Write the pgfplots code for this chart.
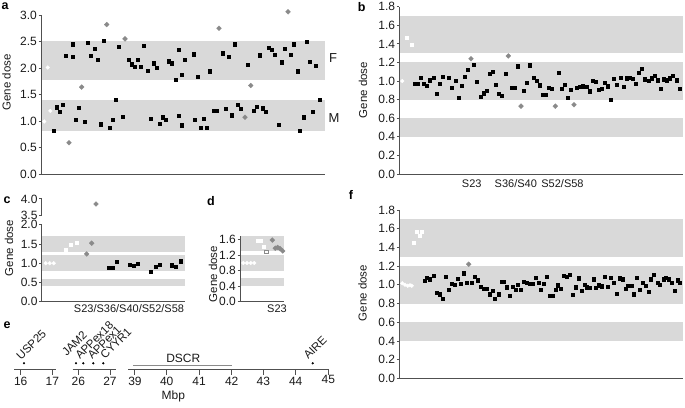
\documentclass[border=0pt]{standalone}
\usepackage{fontspec}
\setmainfont{Liberation Sans}
\usepackage{pgfplots}
\pgfplotsset{compat=1.18}
\definecolor{band}{HTML}{D9D9D9}
\definecolor{axg}{HTML}{505050}
\definecolor{dia}{HTML}{8A8A8A}
\definecolor{txt}{HTML}{1A1A1A}
\newcommand{\fs}{\fontsize{11}{13}\selectfont}
\newcommand{\ft}{\fontsize{12}{14}\selectfont}
\newcommand{\fg}{\fontsize{11.5}{13}\selectfont}
\pgfplotsset{
  panel/.style={scale only axis, anchor=south west, clip=false, axis on top,
    axis lines=left, axis line style={-, axg, line width=0.8pt},
    xtick=\empty, tick align=outside, major tick length=2.5pt,
    tick style={axg, line width=0.8pt},
    yticklabel style={font=\ft, text=txt, inner xsep=1.5pt}},
  blk/.style={only marks, mark=square*, color=black, mark size=1.6pt},
  gry/.style={only marks, mark=square*, color=dia, mark size=1.7pt, mark options={rotate=45}},
  wdia/.style={only marks, mark=square*, color=white, mark size=1.3pt, mark options={rotate=45}},
  wsq/.style={only marks, mark=square*, color=white, mark size=1.5pt},
}
\begin{document}
\begin{tikzpicture}
\useasboundingbox (0,0) rectangle (685pt,407pt);

% ---------------- panel a ----------------
\begin{axis}[panel, at={(41pt,233pt)}, width=284pt, height=159pt,
  xmin=41, xmax=325, ymin=0, ymax=3,
  ytick={0,0.5,1,1.5,2,2.5,3}, yticklabels={0.0,0.5,1.0,1.5,2.0,2.5,3.0}]
\fill[band] (axis cs:41,1.78) rectangle (axis cs:325,2.5);
\fill[band] (axis cs:41,0.82) rectangle (axis cs:325,1.40);
\addplot[blk] coordinates {
(66,2.23)(72.3,2.45)(73,2.22)(87.7,2.48)(90.7,2.23)(94.3,2.36)(97.3,2.16)(103.7,2.51)(118.7,2.40)(128.7,2.15)(131.7,2.07)(134.7,2.02)(137.7,2.15)(141,2.03)(144,2.42)(147.3,1.95)(153.7,2.09)(156.7,2.01)(168.7,2.13)(172,2.09)(175.3,1.78)(178.7,2.34)(181.7,1.87)(185,2.15)(194,2.26)(197.7,1.84)(210,1.94)(222.3,2.28)(228.3,2.21)(235,2.45)(247.3,2.06)(260,2.24)(269,2.38)(272,2.35)(275,2.25)(281.7,2.11)(285,2.37)(291,2.25)(294,2.45)(297.3,1.94)(306.7,2.49)(310,2.12)(316,2.05)
(53.3,0.81)(56.7,1.26)(60,1.17)(63,1.31)(75.3,1.03)(78.7,1.25)(84.7,0.98)(100.3,0.94)(109.7,0.88)(113,1.03)(116,1.40)(122.7,1.08)(150.7,1.05)(159.7,0.95)(162.7,1.07)(166,1.02)(178.7,1.10)(181.7,0.92)(194.3,1.03)(200.3,0.87)(203.7,1.04)(206.7,0.87)(213.3,1.19)(216.7,1.19)(225.7,1.23)(231.7,1.11)(237.7,1.30)(240.7,1.23)(253.7,1.19)(256.7,1.27)(263,1.24)(266,1.18)(278.3,0.93)(300,0.82)(303.3,1.07)(312.7,1.17)(319.3,1.40)};
\addplot[gry] coordinates {(69,0.59)(81.7,1.64)(106.7,2.82)(125,2.55)(219,2.75)(245,1.07)(250.7,1.67)(288,3.06)};
\addplot[wdia] coordinates {(47.7,2.01)(44.3,0.99)(50.3,1.19)};
\end{axis}

% ---------------- panel b ----------------
\begin{axis}[panel, at={(399.3pt,233pt)}, width=283.7pt, height=167.3pt,
  xmin=399.3, xmax=683, ymin=0, ymax=1.8,
  ytick={0,0.2,0.4,0.6,0.8,1,1.2,1.4,1.6,1.8}, yticklabels={0.0,0.2,0.4,0.6,0.8,1.0,1.2,1.4,1.6,1.8}]
\fill[band] (axis cs:399.3,1.3) rectangle (axis cs:683,1.7);
\fill[band] (axis cs:399.3,0.8) rectangle (axis cs:683,1.2);
\fill[band] (axis cs:399.3,0.4) rectangle (axis cs:683,0.6);
\addplot[blk] coordinates {
(414.7,0.975)(417.7,0.975)(421,1.035)(424,0.975)(427,0.946)(430,1.01)(433.3,1.04)(436.3,0.86)(439.7,0.97)(442.7,1.05)(449,1.035)(452,0.93)(455.3,1.00)(458.3,0.82)(461.7,0.946)(464.7,1.043)(468,1.125)(474,1.18)(477,0.99)(480.3,0.83)(483.3,0.87)(486.7,0.90)(489.7,1.08)(492.7,1.10)(496,0.96)(499,0.86)(502,0.84)(505.3,1.08)(511.3,0.93)(514.7,0.93)(517.7,1.16)(523.7,0.90)(527,0.98)(530,1.17)(533.3,1.04)(536.3,1.00)(539.7,0.955)(542.7,0.855)(545.7,0.855)(549,0.93)(552,0.92)(558.3,1.09)(561.3,0.92)(564.7,0.965)(567.7,0.82)(570.7,0.91)(577,0.93)(580,0.935)(583,0.945)(586.3,0.935)(589.3,0.89)(592.3,1.005)(595.3,0.995)(598.7,0.91)(601.7,0.92)(604.7,0.985)(608,0.945)(611,0.80)(614,1.025)(617,0.965)(620.3,1.04)(623.3,0.94)(626.7,1.03)(629.7,1.04)(632.7,1.025)(635.7,0.97)(639,1.09)(642,1.13)(645,1.02)(648.3,1.00)(651.3,1.03)(654.3,1.06)(657.7,1.01)(660.7,0.92)(663.7,1.02)(667,1.01)(670,1.03)(673,1.06)(676.3,1.01)(679.3,0.915)};
\addplot[gry] coordinates {(471,1.24)(508.3,1.27)(521,0.73)(555.3,0.73)(574,0.745)};
\addplot[wdia] coordinates {(402.3,1.00)};
\addplot[wsq] coordinates {(406.7,1.47)(411.3,1.39)};
\end{axis}

% ---------------- panel f ----------------
\begin{axis}[panel, at={(399.3pt,28.7pt)}, width=283.7pt, height=168.3pt,
  xmin=399.3, xmax=683, ymin=0, ymax=1.8,
  ytick={0,0.2,0.4,0.6,0.8,1,1.2,1.4,1.6,1.8}, yticklabels={0.0,0.2,0.4,0.6,0.8,1.0,1.2,1.4,1.6,1.8}]
\fill[band] (axis cs:399.3,1.3) rectangle (axis cs:683,1.7);
\fill[band] (axis cs:399.3,0.8) rectangle (axis cs:683,1.2);
\fill[band] (axis cs:399.3,0.4) rectangle (axis cs:683,0.6);
\addplot[blk] coordinates {
(424.3,1.048)(427,1.08)(430,1.06)(433.3,1.10)(436.3,0.915)(439.3,0.90)(442.3,0.85)(445.7,1.085)(448.7,0.945)(452,1.01)(455,1.0)(457.7,1.066)(460.7,1.01)(463.3,1.125)(466.7,1.02)(472,1.02)(474.7,1.085)(478,1.05)(480.7,0.98)(483.3,0.96)(486.7,0.96)(489.3,0.90)(492.7,0.935)(494.3,0.85)(498.3,0.90)(501.3,1.03)(504,1.03)(506.7,0.975)(510,0.88)(512.7,0.98)(515.3,0.95)(518,1.0)(520.7,0.95)(523.3,1.03)(526.7,1.02)(530,1.01)(532.7,1.01)(535.3,1.08)(538.3,1.02)(541,0.945)(544,1.01)(547,1.085)(549.3,0.88)(552.7,0.88)(555.3,0.945)(558,0.995)(561,0.96)(564,1.10)(566.7,1.085)(570,1.11)(572.7,0.895)(575.3,0.975)(578.7,1.07)(581.3,0.935)(584.3,1.0)(587,0.975)(590,0.97)(593.3,1.06)(596,0.97)(598.7,0.995)(602,0.985)(604.7,1.085)(607.7,0.98)(610.7,1.075)(613.3,1.02)(616.3,0.905)(619.3,1.07)(622.7,1.06)(625.3,0.955)(628,0.99)(631.3,0.99)(634,0.90)(637,1.08)(640,0.95)(642.7,1.02)(645.3,0.99)(648.7,0.925)(651,1.06)(654,1.11)(657.3,1.02)(660,1.0)(663.3,1.06)(666,1.08)(669,1.06)(671.7,1.02)(674.7,0.935)(677.3,1.05)(680,1.02)};
\addplot[gry] coordinates {(468.7,1.22)};
\addplot[wdia] coordinates {(402.3,1.016)(405,1.0)(407.7,0.99)(410,0.995)(411.7,0.99)};
\addplot[wsq] coordinates {(413.7,1.45)(416.3,1.57)(419.3,1.52)(422,1.57)};
\end{axis}

% ---------------- panel c (broken axis: 3.5 drawn at 2.25, 4.0 at 2.67) ----------------
\begin{axis}[panel, at={(41.7pt,105.3pt)}, width=143.3pt, height=102.8pt,
  xmin=41.7, xmax=185, ymin=0, ymax=2.67, y axis line style={draw=none},
  ytick={0,0.5,1,1.5,2,2.25,2.67}, yticklabels={0.0,0.5,1.0,1.5,2.0,3.5,4.0}]
\fill[band] (axis cs:41.7,1.3) rectangle (axis cs:185,1.7);
\fill[band] (axis cs:41.7,0.8) rectangle (axis cs:185,1.2);
\fill[band] (axis cs:41.7,0.4) rectangle (axis cs:185,0.6);
\draw[axg, line width=0.8pt] (axis cs:41.7,0) -- (axis cs:41.7,2.0);
\draw[axg, line width=0.8pt] (axis cs:41.7,2.25) -- (axis cs:41.7,2.67);
\addplot[blk] coordinates {(108.3,0.875)(112.7,0.89)(116.7,1.03)(130,0.97)(134,0.94)(138,0.99)(151,0.78)(155.3,0.9)(159.3,0.97)(171.7,0.95)(176,0.91)(180.3,1.05)};
\addplot[gry] coordinates {(86.7,1.24)(91.7,1.52)(96,2.536)};
\addplot[wdia] coordinates {(45.7,1.0)(49.7,1.0)(53.7,1.0)};
\addplot[wsq] coordinates {(65.3,1.35)(70.7,1.49)(76.3,1.53)};
\end{axis}

% ---------------- panel d ----------------
\begin{axis}[panel, at={(240pt,105.3pt)}, width=44pt, height=65.9pt,
  xmin=240, xmax=284, ymin=0, ymax=1.7,
  ytick={0,0.4,0.8,1.2,1.6}, yticklabels={0.0,0.4,0.8,1.2,1.6}]
\fill[band] (axis cs:240,1.3) rectangle (axis cs:284,1.7);
\fill[band] (axis cs:240,0.8) rectangle (axis cs:284,1.2);
\fill[band] (axis cs:240,0.4) rectangle (axis cs:284,0.6);
\addplot[wdia] coordinates {(243.3,1.0)(247,1.0)(250.7,1.0)(254.3,1.0)};
\addplot[wsq] coordinates {(257.7,1.57)(261,1.58)(264,1.42)};
\addplot[only marks, mark=square*, mark size=1.8pt, mark options={draw=dia, fill=white, line width=0.6pt}] coordinates {(266.3,1.29)};
\addplot[gry] coordinates {(272.3,1.59)(275.3,1.38)(277.7,1.40)(280,1.37)(282.7,1.31)};
\end{axis}

% ---------------- overlay: texts and panel e (pixel coordinates, y up) ----------------
\begin{axis}[scale only axis, anchor=south west, at={(0pt,0pt)}, width=685pt, height=407pt,
  xmin=0, xmax=685, ymin=0, ymax=407, hide axis, clip=false]
% panel letters
\node[font=\fontsize{12.5}{14}\selectfont\bfseries] at (axis cs:5,400.5) {a};
\node[font=\fontsize{12.5}{14}\selectfont\bfseries] at (axis cs:361.7,399.7) {b};
\node[font=\fontsize{12.5}{14}\selectfont\bfseries] at (axis cs:7,206.7) {c};
\node[font=\fontsize{12.5}{14}\selectfont\bfseries] at (axis cs:211,206) {d};
\node[font=\fontsize{12.5}{14}\selectfont\bfseries] at (axis cs:7,81.5) {e};
\node[font=\fontsize{12.5}{14}\selectfont\bfseries] at (axis cs:351,212) {f};
% y labels
\node[font=\fg, text=txt, rotate=90] at (axis cs:6.5,324.5) {Gene dose};
\node[font=\fg, text=txt, rotate=90] at (axis cs:363,317) {Gene dose};
\node[font=\fg, text=txt, rotate=90] at (axis cs:9,159) {Gene dose};
\node[font=\fg, text=txt, rotate=90] at (axis cs:213,133) {Gene dose};
\node[font=\fg, text=txt, rotate=90] at (axis cs:362.5,114) {Gene dose};
% F / M
\node[font=\fontsize{13}{15}\selectfont, text=txt] at (axis cs:333,349) {F};
\node[font=\fontsize{13}{15}\selectfont, text=txt] at (axis cs:334,289) {M};
% category labels
\node[font=\fs, text=txt] at (axis cs:471.7,223.7) {S23};
\node[font=\fs, text=txt] at (axis cs:515.8,223.7) {S36/S40};
\node[font=\fs, text=txt] at (axis cs:562.5,223.7) {S52/S58};
\node[font=\fs, text=txt] at (axis cs:129,98.3) {S23/S36/S40/S52/S58};
\node[font=\fs, text=txt] at (axis cs:277,98.3) {S23};
% panel e: chromosome scale
\draw[axg, line width=0.8pt] (axis cs:14,37.7) -- (axis cs:56,37.7);
\draw[axg, line width=0.8pt] (axis cs:72.7,37.7) -- (axis cs:115.7,37.7);
\draw[axg, line width=0.8pt] (axis cs:128.3,37.7) -- (axis cs:328.3,37.7);
\draw[axg, line width=0.8pt] (axis cs:20.7,37.7) -- (axis cs:20.7,32);
\draw[axg, line width=0.8pt] (axis cs:52.3,37.7) -- (axis cs:52.3,32);
\draw[axg, line width=0.8pt] (axis cs:78.3,37.7) -- (axis cs:78.3,32);
\draw[axg, line width=0.8pt] (axis cs:110,37.7) -- (axis cs:110,32);
\draw[axg, line width=0.8pt] (axis cs:134.3,37.7) -- (axis cs:134.3,32);
\draw[axg, line width=0.8pt] (axis cs:166.7,37.7) -- (axis cs:166.7,32);
\draw[axg, line width=0.8pt] (axis cs:199,37.7) -- (axis cs:199,32);
\draw[axg, line width=0.8pt] (axis cs:231.7,37.7) -- (axis cs:231.7,32);
\draw[axg, line width=0.8pt] (axis cs:263.3,37.7) -- (axis cs:263.3,32);
\draw[axg, line width=0.8pt] (axis cs:295.7,37.7) -- (axis cs:295.7,32);
\draw[axg, line width=0.8pt] (axis cs:328.3,37.7) -- (axis cs:328.3,32);
\node[font=\ft, text=txt] at (axis cs:20.7,25.3) {16};
\node[font=\ft, text=txt] at (axis cs:52.3,25.3) {17};
\node[font=\ft, text=txt] at (axis cs:78.3,25.3) {26};
\node[font=\ft, text=txt] at (axis cs:110,25.3) {27};
\node[font=\ft, text=txt] at (axis cs:135,25.3) {39};
\node[font=\ft, text=txt] at (axis cs:166.7,25.3) {40};
\node[font=\ft, text=txt] at (axis cs:199,25.3) {41};
\node[font=\ft, text=txt] at (axis cs:231.7,25.3) {42};
\node[font=\ft, text=txt] at (axis cs:263.3,25.3) {43};
\node[font=\ft, text=txt] at (axis cs:295.7,25.3) {44};
\node[font=\ft, text=txt] at (axis cs:328.3,27.5) {45};
\node[font=\ft, text=txt] at (axis cs:173.3,11) {Mbp};
\draw[dia, line width=0.8pt] (axis cs:133.3,42) -- (axis cs:231.7,42);
\node[font=\ft, text=txt] at (axis cs:183.3,48.7) {DSCR};
\addplot[only marks, mark=*, mark size=0.9pt, black] coordinates {(24,43.7)(76,43.7)(83.3,43.7)(93.3,43.7)(103.3,43.7)(312.7,43.7)};
\node[font=\fg, text=txt, rotate=45, anchor=base west, inner sep=0pt] at (axis cs:21,46.5) {USP25};
\node[font=\fg, text=txt, rotate=45, anchor=base west, inner sep=0pt] at (axis cs:66.7,50) {JAM2};
\node[font=\fg, text=txt, rotate=45, anchor=base west, inner sep=0pt] at (axis cs:80,47) {APPex18};
\node[font=\fg, text=txt, rotate=45, anchor=base west, inner sep=0pt] at (axis cs:92.3,47) {APPex1};
\node[font=\fg, text=txt, rotate=45, anchor=base west, inner sep=0pt] at (axis cs:105,47) {CYYR1};
\node[font=\fg, text=txt, rotate=45, anchor=base west, inner sep=0pt] at (axis cs:308.3,47) {AIRE};
\end{axis}
\end{tikzpicture}
\end{document}
